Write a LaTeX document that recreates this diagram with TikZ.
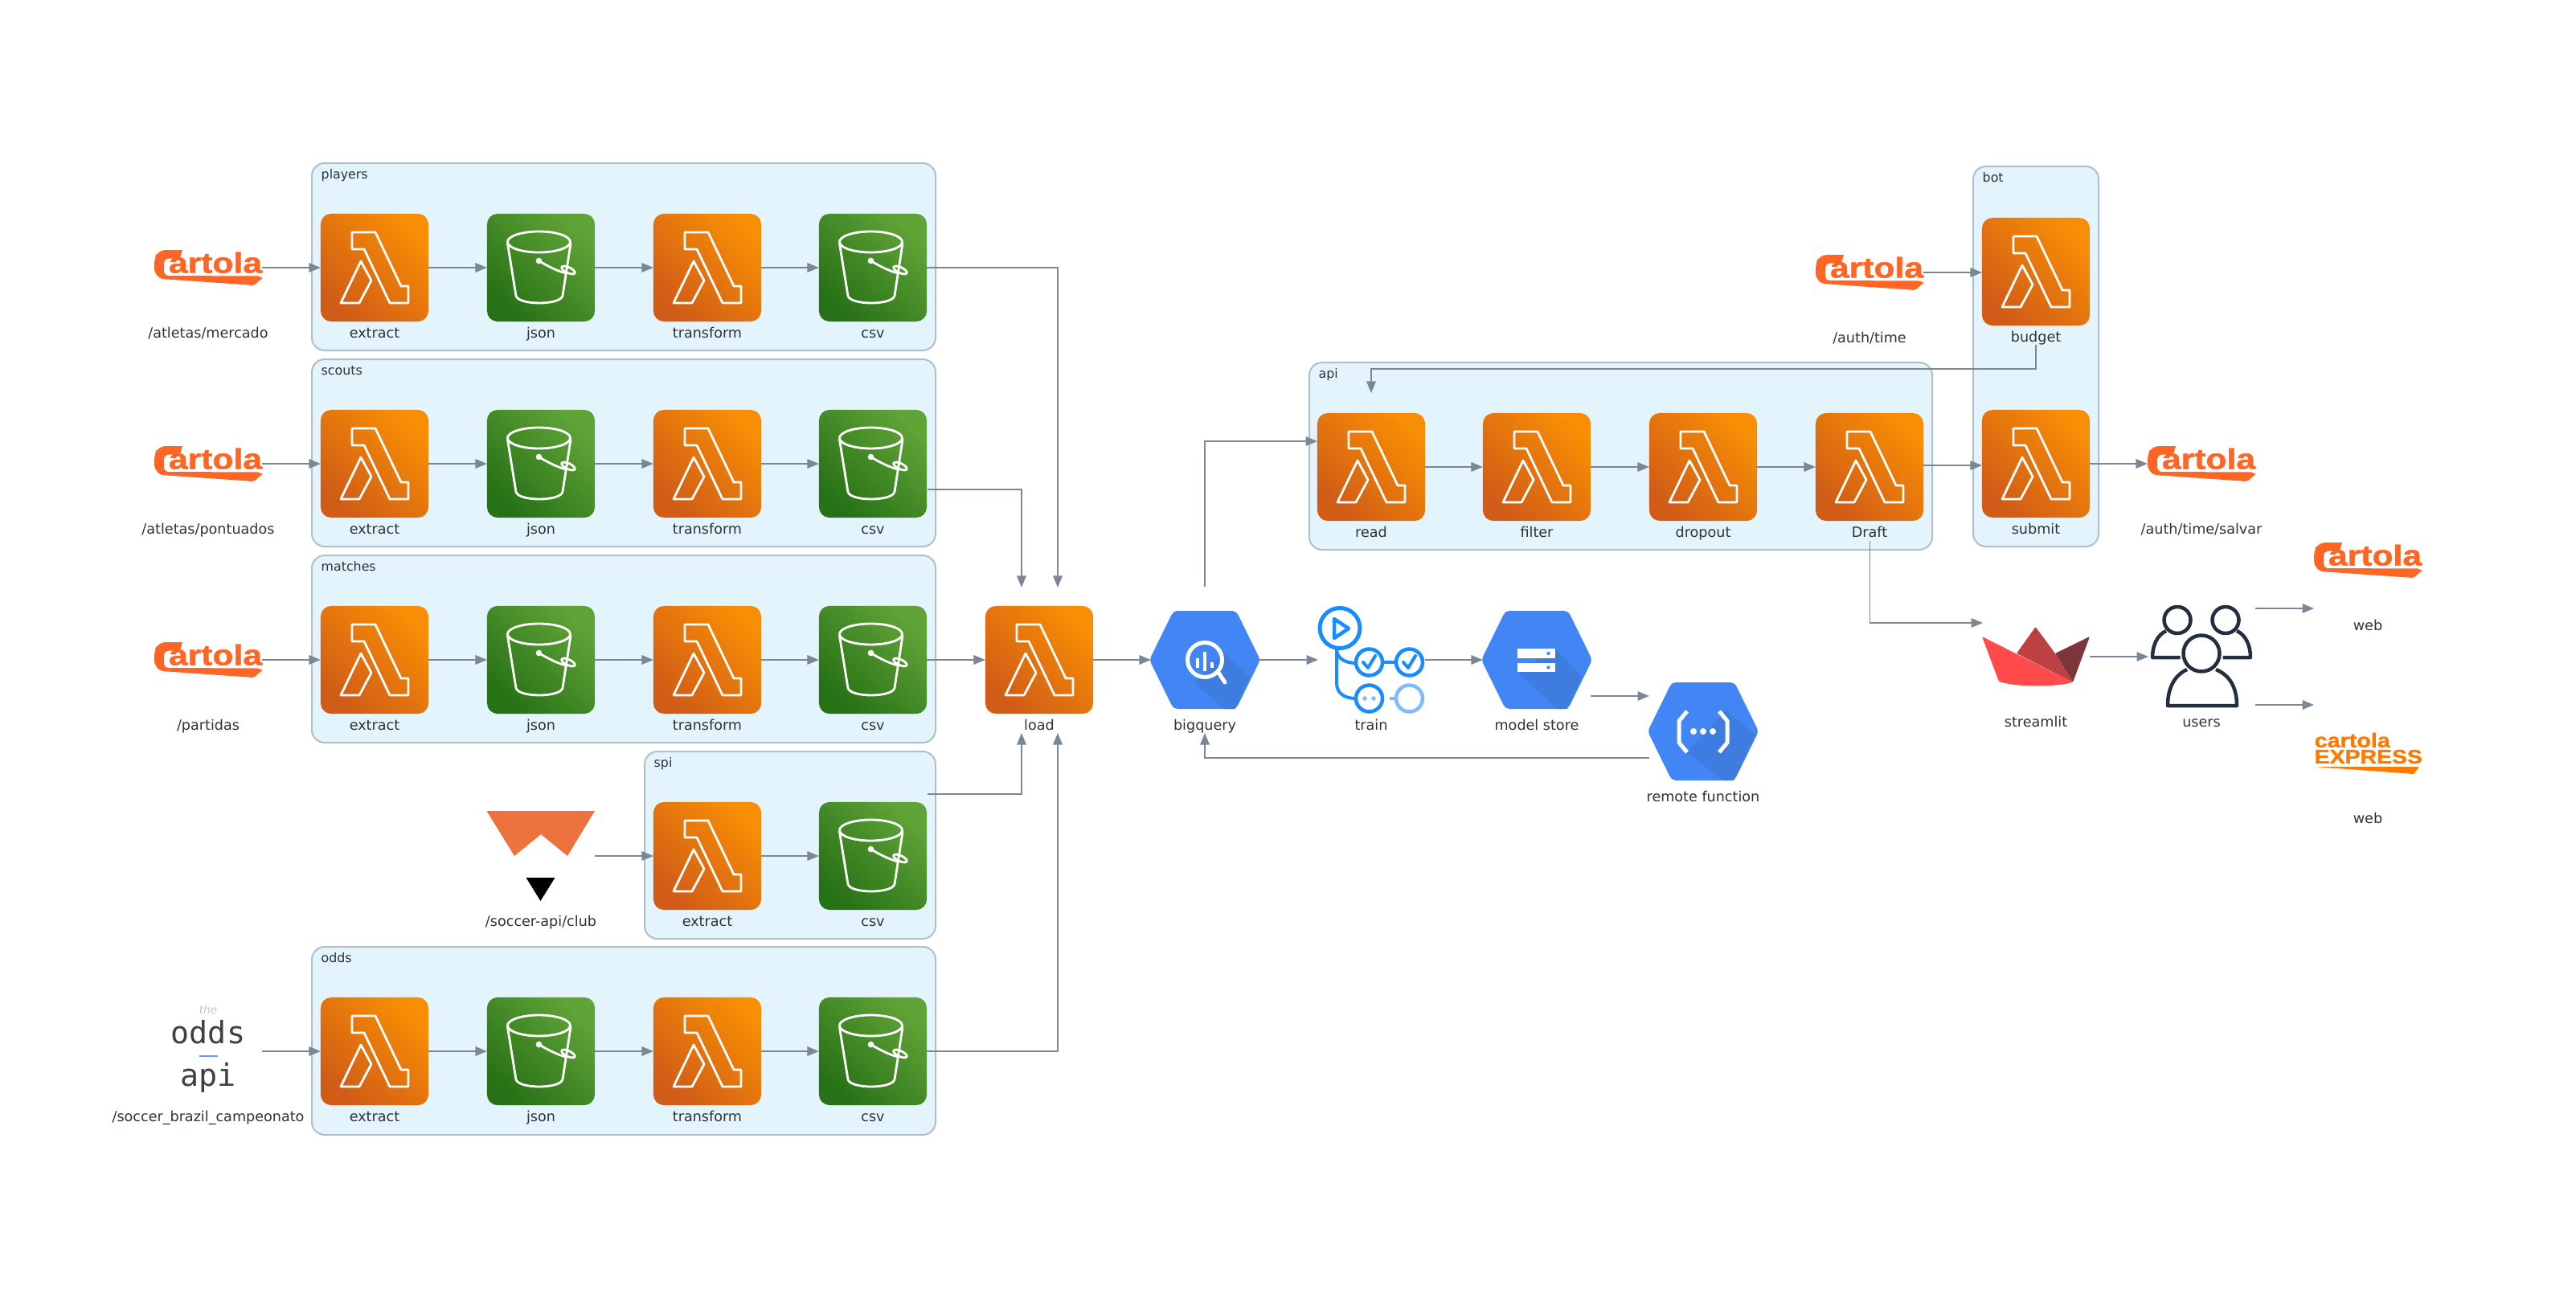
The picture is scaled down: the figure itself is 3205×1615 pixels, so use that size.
\documentclass[tikz,border=0pt]{standalone}
\usepackage{fontspec}
\setmainfont{DejaVu Sans}
\setmonofont{DejaVu Sans Mono}
\newfontfamily\wordfont[BoldFeatures={FakeBold=1.2}]{Liberation Sans}
\usetikzlibrary{arrows.meta,calc}

\definecolor{lambdadark}{HTML}{D05C17}
\definecolor{lambdalight}{HTML}{F78E04}
\definecolor{bucketdark}{HTML}{277116}
\definecolor{bucketlight}{HTML}{60A337}
\definecolor{googleblue}{HTML}{4285F4}
\definecolor{googleshade}{HTML}{3F7CE0}
\definecolor{clusterfill}{HTML}{E3F4FD}
\definecolor{clusterline}{HTML}{B0BEC8}
\definecolor{linkgrey}{HTML}{7B8794}
\definecolor{textgrey}{HTML}{2D3436}
\definecolor{cartolaorange}{HTML}{FF6626}
\definecolor{expressorange}{HTML}{FF7A00}
\definecolor{soccerorange}{HTML}{EE723E}
\definecolor{trainblue}{HTML}{1A8CFF}
\definecolor{trainlight}{HTML}{80BAFF}
\definecolor{usersnavy}{HTML}{232F3E}
\definecolor{crownred}{HTML}{FF4B4B}
\definecolor{crownmid}{HTML}{BD4043}
\definecolor{crowndark}{HTML}{7D353B}
\definecolor{oddsline}{HTML}{6E9BE8}

\tikzset{
	iconbox/.style={minimum size=1.34cm,inner sep=0pt,outer sep=0pt},
	lambdabox/.style={iconbox,rounded corners=0.13cm,bottom color=lambdadark,top color=lambdalight,shading angle=-45},
	bucketbox/.style={iconbox,rounded corners=0.13cm,bottom color=bucketdark,top color=bucketlight,shading angle=-45},
	iconlabel/.style={font=\fontsize{5}{6}\selectfont,text=textgrey,inner sep=0pt,anchor=base},
	clusterlabel/.style={font=\fontsize{4.5}{6}\selectfont,text=textgrey,inner sep=0pt,anchor=base west},
	clusterbox/.style={draw=clusterline,fill=clusterfill,line width=0.02cm,rounded corners=0.16cm},
	link/.style={draw=linkgrey,line width=0.017cm,-{Triangle[length=0.145cm,width=0.115cm]}},
	whiteline/.style={draw=white,line width=0.028cm,line join=round,line cap=round},
	lambdaicon/.pic={
		\draw[whiteline] (-28,-44) -- (1,-44) -- (33,23) -- (42,23) -- (42,44) -- (19,44) -- (-13,-23) -- (-28,-23) -- cycle;
		\draw[whiteline] (-17,-8) -- (-4,16) -- (-19,44) -- (-42,44) -- cycle;
	},
	bucketicon/.pic={
		\draw[whiteline] (-2.5,-32) circle [x radius=39,y radius=13];
		\draw[whiteline] (-41.5,-30) -- (-31,35) .. controls (-28,47) and (24,47) .. (27,35) -- (37,-30);
		\fill[white] (-2.5,-8.5) circle (3.8);
		\draw[whiteline] (-2.5,-8.5) .. controls (8,-2) and (20,4) .. (31,7);
		\begin{scope}[shift={(34,3)},rotate=-25]
			\draw[whiteline] (0,0) circle [x radius=9,y radius=3.5];
		\end{scope}
	},
	hexshape/.pic={
		\fill[googleblue,rounded corners=0.05cm] (-69,0) -- (-39,-61) -- (39,-61) -- (69,0) -- (39,61) -- (-39,61) -- cycle;
	},
	queryicon/.pic={
		\fill[googleshade] (23,-9) -- (56,21) -- (38,61) -- (25,61) -- (-13,28) -- cycle;
		\draw[white,line width=0.05cm] (0,0) circle (21.5);
		\draw[white,line width=0.05cm,line cap=round] (17,16) -- (25,28);
		\fill[white] (-11,-2) rectangle (-7,10);
		\fill[white] (-2,-10) rectangle (2,14);
		\fill[white] (7,3) rectangle (11,10);
	},
	storeicon/.pic={
		\fill[googleshade] (23,-14) -- (56,21) -- (38,61) -- (25,61) -- (-24,15) -- cycle;
		\fill[white] (-24,-14) rectangle (23,-2);
		\fill[white] (-24,4) rectangle (23,15);
		\fill[googleblue] (14.5,-8) circle (2.2);
		\fill[googleblue] (14.5,9.5) circle (2.2);
	},
	functionicon/.pic={
		\fill[googleshade] (28,-26) -- (65,4) -- (38,61) -- (25,61) -- (-20,26) -- cycle;
		\draw[whiteline,line width=0.05cm,line cap=butt] (-20,-25) -- (-30,-13) -- (-30,14) -- (-20,26);
		\draw[whiteline,line width=0.05cm,line cap=butt] (20,-25) -- (30,-13) -- (30,14) -- (20,26);
		\fill[white] (-12,0) circle (4);
		\fill[white] (0,0) circle (4);
		\fill[white] (12,0) circle (4);
	},
	cartolashape/.pic={
		\fill[cartolaorange,rounded corners=0.02cm] (67,10.5) -- (67,13) -- (57,22) -- (-58,14) [rounded corners=0.07cm] -- (-67,8) -- (-67,-11) [rounded corners=0.09cm] -- (-62,-22) [sharp corners] -- (-32,-22) -- (-35,-12) [rounded corners=0.05cm] -- (-55,-11) -- (-55,10) -- cycle;
	},
}

\newcommand{\lambdanode}[3]{
	\node[lambdabox] (#1) at (#2) {};
	\pic at (#1.center) {lambdaicon};
	\node[iconlabel] (#1label) at ([yshift=-0.2cm]#1.south) {#3};
}
\newcommand{\bucketnode}[3]{
	\node[bucketbox] (#1) at (#2) {};
	\pic at (#1.center) {bucketicon};
	\node[iconlabel] (#1label) at ([yshift=-0.2cm]#1.south) {#3};
}
\newcommand{\hexnode}[4]{
	\node[iconbox] (#1) at (#2) {};
	\pic at (#1.center) {hexshape};
	\pic at (#1.center) {#4};
	\node[iconlabel] (#1label) at ([yshift=-0.2cm]#1.south) {#3};
}
\newcommand{\cartolanode}[3]{
	\node[iconbox] (#1) at (#2) {};
	\pic at (#1.center) {cartolashape};
	\node[inner sep=0pt,text=cartolaorange] (#1word) at ([xshift=0.09cm,yshift=0.063cm]#1.center) {\resizebox{1.16cm}{0.26cm}{\wordfont\bfseries artola}};
	\node[iconlabel] (#1label) at ([yshift=-0.2cm]#1.south) {#3};
}
\newcommand{\groupbox}[4]{
	\draw[clusterbox] (#2) rectangle (#3);
	\node[clusterlabel] (#1group) at ([xshift=0.11cm,yshift=-0.19cm]#2) {#4};
}

\begin{document}
\begin{tikzpicture}[x=0.01cm,y=-0.01cm]
	\useasboundingbox (0,0) rectangle (3205,1615);
	\groupbox{players}{388,203}{1164,436}{players}
	\groupbox{scouts}{388,447}{1164,680}{scouts}
	\groupbox{matches}{388,691}{1164,924}{matches}
	\groupbox{spi}{802,935}{1164,1168}{spi}
	\groupbox{odds}{388,1178}{1164,1412}{odds}
	\groupbox{api}{1629,451}{2404,684}{api}
	\groupbox{bot}{2455,207}{2611,680}{bot}

	\cartolanode{mercado}{259,333}{/atletas/mercado}
	\lambdanode{playersextract}{466,333}{extract}
	\bucketnode{playersjson}{673,333}{json}
	\lambdanode{playerstransform}{880,333}{transform}
	\bucketnode{playerscsv}{1086,333}{csv}

	\cartolanode{pontuados}{259,577}{/atletas/pontuados}
	\lambdanode{scoutsextract}{466,577}{extract}
	\bucketnode{scoutsjson}{673,577}{json}
	\lambdanode{scoutstransform}{880,577}{transform}
	\bucketnode{scoutscsv}{1086,577}{csv}

	\cartolanode{partidas}{259,821}{/partidas}
	\lambdanode{matchesextract}{466,821}{extract}
	\bucketnode{matchesjson}{673,821}{json}
	\lambdanode{matchestransform}{880,821}{transform}
	\bucketnode{matchescsv}{1086,821}{csv}

	% soccer api logo
	\node[iconbox] (club) at (673,1065) {};
	\fill[soccerorange] (605.5,1009) -- (740,1009) -- (706,1065) -- (673,1038) -- (640,1065) -- cycle;
	\fill[black] (654.5,1092) -- (690.5,1092) -- (672.5,1121) -- cycle;
	\node[iconlabel] (clublabel) at ([yshift=-0.2cm]club.south) {/soccer-api/club};
	\lambdanode{spiextract}{880,1065}{extract}
	\bucketnode{spicsv}{1086,1065}{csv}

	% odds api logo
	\node[iconbox] (oddsapi) at (259,1308) {};
	\node[inner sep=0pt,anchor=base,text=gray!45,font=\fontsize{3.9}{5}\selectfont\itshape] (oddsthe) at (259,1261) {the};
	\node[inner sep=0pt,anchor=base,text=black!75,font=\fontsize{10.9}{12}\ttfamily] (oddsword) at (259,1298) {odds};
	\draw[oddsline,line width=0.015cm] (248,1314) -- (271,1314);
	\node[inner sep=0pt,anchor=base,text=black!75,font=\fontsize{10.9}{12}\ttfamily] (apiword) at (259,1351) {api};
	\node[iconlabel] (oddsapilabel) at ([yshift=-0.2cm]oddsapi.south) {/soccer\_brazil\_campeonato};
	\lambdanode{oddsextract}{466,1308}{extract}
	\bucketnode{oddsjson}{673,1308}{json}
	\lambdanode{oddstransform}{880,1308}{transform}
	\bucketnode{oddscsv}{1086,1308}{csv}

	\lambdanode{load}{1293,821}{load}
	\hexnode{bigquery}{1499,821}{bigquery}{queryicon}

	% train pipeline icon
	\node[iconbox] (train) at (1706,821) {};
	\draw[trainblue,line width=0.05cm] (1667,781.5) circle (25);
	\draw[trainblue,line width=0.045cm,line join=round] (1660,770) -- (1678,782) -- (1660,794) -- cycle;
	\draw[trainblue,line width=0.04cm] (1663,808) -- (1663,850) .. controls (1663,862) and (1672,869) .. (1687,869);
	\draw[trainblue,line width=0.04cm] (1663,808) .. controls (1663,818) and (1672,825) .. (1687,825);
	\draw[trainblue,line width=0.045cm] (1703.5,824) circle (16.5);
	\draw[trainblue,line width=0.045cm] (1753.5,824) circle (16.5);
	\draw[trainblue,line width=0.04cm] (1720,824) -- (1737,824);
	\draw[trainblue,line width=0.045cm] (1703.5,869) circle (16.5);
	\draw[trainlight,line width=0.045cm] (1753.5,869) circle (16.5);
	\draw[trainlight,line width=0.04cm] (1729,869) -- (1737,869);
	\draw[trainblue,line width=0.04cm,line join=round,line cap=round] (1696,824) -- (1702,831) -- (1711,816);
	\draw[trainblue,line width=0.04cm,line join=round,line cap=round] (1746,824) -- (1752,831) -- (1761,816);
	\fill[trainlight] (1698,869) circle (2.8);
	\fill[trainlight] (1709,869) circle (2.8);
	\node[iconlabel] (trainlabel) at ([yshift=-0.2cm]train.south) {train};

	\hexnode{modelstore}{1912,821}{model store}{storeicon}
	\hexnode{remote}{2119,910}{remote function}{functionicon}

	\lambdanode{read}{1706,581}{read}
	\lambdanode{filter}{1912,581}{filter}
	\lambdanode{dropout}{2119,581}{dropout}
	\lambdanode{draft}{2326,581}{Draft}

	\cartolanode{authtime}{2326,339}{/auth/time}
	\lambdanode{budget}{2533,338}{budget}
	\lambdanode{submit}{2533,577}{submit}
	\cartolanode{salvar}{2739,577}{/auth/time/salvar}

	% streamlit crown
	\node[iconbox] (streamlit) at (2533,817) {};
	\fill[crowndark,rounded corners=0.01cm] (2600,792) -- (2579,849) -- (2557,813) -- cycle;
	\fill[crownmid,rounded corners=0.01cm] (2532.5,780) -- (2509,813) -- (2579,849) -- (2557,813) -- cycle;
	\fill[crownred,rounded corners=0.015cm] (2466,792) -- (2487,848) .. controls (2510,855) and (2555,855) .. (2579,849) -- cycle;
	\node[iconlabel] (streamlitlabel) at ([yshift=-0.2cm]streamlit.south) {streamlit};

	% users icon
	\node[iconbox] (users) at (2739,817) {};
	\begin{scope}[usersnavy,line width=0.045cm,line join=round]
		\draw (2709,771.5) circle (16.5);
		\draw (2769,771.5) circle (16.5);
		\draw (2739,813) circle (22.5);
		\draw (2712.5,818) -- (2678,818) .. controls (2678,803) and (2684,790) .. (2695,785);
		\draw (2765.5,818) -- (2800,818) .. controls (2800,803) and (2794,790) .. (2783,785);
		\draw (2721,833) .. controls (2706,840) and (2697,855) .. (2697,878) -- (2783,878) .. controls (2783,855) and (2774,840) .. (2757,833);
	\end{scope}
	\node[iconlabel] (userslabel) at ([yshift=-0.2cm]users.south) {users};

	\cartolanode{cartolaweb}{2946,697}{web}

	% cartola express logo
	\node[iconbox] (expressweb) at (2946,937) {};
	\node[inner sep=0pt,anchor=west,text=expressorange] (expresscartola) at (2879,921) {\resizebox{0.94cm}{0.18cm}{\wordfont\bfseries cartola}};
	\node[inner sep=0pt,anchor=west,text=expressorange] (expressword) at (2879,941.5) {\resizebox{1.34cm}{0.17cm}{\wordfont\bfseries EXPRESS}};
	\fill[expressorange] (2880,954) -- (3010,954) -- (3003,963) -- cycle;
	\node[iconlabel] (expresswebbottom) at ([yshift=-0.2cm]expressweb.south) {web};

	\coordinate (scoutsout) at (1154,609);
	\coordinate (spiout) at (1154,988);
	\coordinate (loadtopa) at (1271,731);
	\coordinate (loadtopb) at (1316,731);
	\coordinate (loadbottoma) at (1271,912);
	\coordinate (loadbottomb) at (1316,912);
	\coordinate (querytop) at (1499,730);
	\coordinate (querybottom) at (1499,912);
	\coordinate (readin) at (1639,549);
	\coordinate (trainin) at (1640,821);
	\coordinate (trainout) at (1773,821);
	\coordinate (remotelink) at (2052,866);
	\coordinate (remoteout) at (2052,943);
	\coordinate (budgetout) at (2533,429);
	\coordinate (budgetbend) at (2533,459);
	\coordinate (readtop) at (1706,489);
	\coordinate (draftout) at (2326.5,673);
	\coordinate (streamlitin) at (2467,775);
	\coordinate (draftlink) at (2393,579);
	\coordinate (weblink) at (2879,757);
	\coordinate (expresslink) at (2879,877);
	\coordinate (streamlitout) at (2600,817);
	\coordinate (usersin) at (2673,817);
	\coordinate (clubout) at (740,1065);

	\draw[link] (mercado) -- (playersextract);
	\draw[link] (playersextract) -- (playersjson);
	\draw[link] (playersjson) -- (playerstransform);
	\draw[link] (playerstransform) -- (playerscsv);
	\draw[link] (pontuados) -- (scoutsextract);
	\draw[link] (scoutsextract) -- (scoutsjson);
	\draw[link] (scoutsjson) -- (scoutstransform);
	\draw[link] (scoutstransform) -- (scoutscsv);
	\draw[link] (partidas) -- (matchesextract);
	\draw[link] (matchesextract) -- (matchesjson);
	\draw[link] (matchesjson) -- (matchestransform);
	\draw[link] (matchestransform) -- (matchescsv);
	\draw[link] (clubout) -- (spiextract);
	\draw[link] (spiextract) -- (spicsv);
	\draw[link] (oddsapi) -- (oddsextract);
	\draw[link] (oddsextract) -- (oddsjson);
	\draw[link] (oddsjson) -- (oddstransform);
	\draw[link] (oddstransform) -- (oddscsv);

	\draw[link] (playerscsv.east) -| (loadtopb);
	\draw[link] (scoutsout) -| (loadtopa);
	\draw[link] (matchescsv) -- (load);
	\draw[link] (spiout) -| (loadbottoma);
	\draw[link] (oddscsv.east) -| (loadbottomb);
	\draw[link] (load) -- (bigquery);
	\draw[link] (bigquery) -- (trainin);
	\draw[link] (trainout) -- (modelstore);
	\draw[link] (modelstore.east |- remotelink) -- (remotelink);
	\draw[link] (remoteout) -| (querybottom);
	\draw[link] (querytop) |- (readin);
	\draw[link] (read) -- (filter);
	\draw[link] (filter) -- (dropout);
	\draw[link] (dropout) -- (draft);
	\draw[link] (draftlink) -- (submit.west |- draftlink);
	\draw[link] (authtime.east) -- (authtime.east -| budget.west);
	\draw[link] (submit) -- (salvar);
	\draw[link] (budgetout) -- (budgetbend) -| (readtop);
	\draw[link] (draftout) |- (streamlitin);
	\draw[link] (streamlitout) -- (usersin);
	\draw[link] (users.east |- weblink) -- (weblink);
	\draw[link] (users.east |- expresslink) -- (expresslink);
\end{tikzpicture}
\end{document}
